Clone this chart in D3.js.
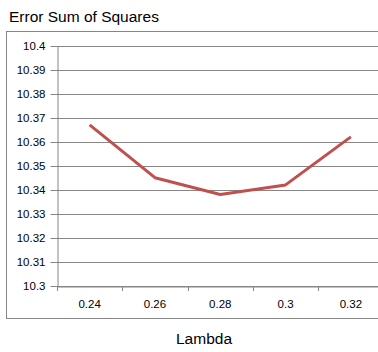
<!DOCTYPE html>
<html>
<head>
<meta charset="utf-8">
<script src="https://cdn.jsdelivr.net/npm/d3@7"></script>
<style>
  body { margin: 0; background: #fff; }
  svg { display: block; font-family: "Liberation Sans", Arial, sans-serif; }
</style>
</head>
<body>
<div id="vis"></div>
<script>
// Datos del gráfico
const lambdas = ["0.24", "0.26", "0.28", "0.3", "0.32"];
const sse = [10.367, 10.345, 10.338, 10.342, 10.362];
const yTicks = [10.3, 10.31, 10.32, 10.33, 10.34, 10.35, 10.36, 10.37, 10.38, 10.39, 10.4];

const WIDTH = 378;
const HEIGHT = 352;
const plot = { left: 57, right: 383.5, top: 45.7, bottom: 285.7 };

const svg = d3.select("#vis")
  .append("svg")
  .attr("width", WIDTH)
  .attr("height", HEIGHT);

// Marco exterior
svg.append("rect")
  .attr("x", 6.5)
  .attr("y", 31.5)
  .attr("width", 380)
  .attr("height", 287)
  .attr("fill", "none")
  .attr("stroke", "#868686");

// Escalas
const x = d3.scaleBand()
  .domain(lambdas)
  .range([plot.left, plot.right]);

const y = d3.scaleLinear()
  .domain([10.3, 10.4])
  .range([plot.bottom, plot.top]);

// Líneas de grilla
svg.append("g")
  .selectAll("line")
  .data(yTicks)
  .enter()
  .append("line")
  .attr("x1", plot.left)
  .attr("x2", plot.right)
  .attr("y1", d => Math.round(y(d)) + 0.5)
  .attr("y2", d => Math.round(y(d)) + 0.5)
  .attr("stroke", "#868686")
  .attr("stroke-width", 1);

// Eje Y
const yAxis = svg.append("g")
  .attr("transform", `translate(${plot.left + 0.5},0)`)
  .call(d3.axisLeft(y).tickValues(yTicks).tickFormat(d3.format("")).tickSize(7).tickSizeOuter(0).tickPadding(5));
yAxis.select(".domain").attr("stroke", "#868686");
yAxis.selectAll(".tick line").attr("stroke", "#868686");
yAxis.selectAll(".tick").attr("transform", d => `translate(0,${Math.round(y(d)) + 0.5})`);
yAxis.selectAll("text")
  .attr("font-size", 11.5)
  .attr("fill", "#000");

// Eje X
const xAxis = svg.append("g")
  .attr("transform", `translate(0,${Math.round(plot.bottom) + 0.5})`)
  .call(d3.axisBottom(x).tickSize(0).tickPadding(13));
xAxis.select(".domain").attr("stroke", "#868686");
xAxis.selectAll("text")
  .attr("font-size", 11.5)
  .attr("fill", "#000");

// Marcas entre categorías
svg.append("g")
  .selectAll("line")
  .data(lambdas)
  .enter()
  .append("line")
  .attr("x1", d => Math.round(x(d)) + 0.5)
  .attr("x2", d => Math.round(x(d)) + 0.5)
  .attr("y1", Math.round(plot.bottom))
  .attr("y2", Math.round(plot.bottom) + 5)
  .attr("stroke", "#868686");

// Serie
const line = d3.line()
  .x((d, i) => x(lambdas[i]) + x.bandwidth() / 2)
  .y(d => y(d));

svg.append("path")
  .datum(sse)
  .attr("d", line)
  .attr("fill", "none")
  .attr("stroke", "#c0504d")
  .attr("stroke-width", 3)
  .attr("stroke-linejoin", "round");

// Títulos
svg.append("text")
  .attr("x", 9)
  .attr("y", 22)
  .attr("font-size", 15.5)
  .attr("fill", "#000")
  .text("Error Sum of Squares");

svg.append("text")
  .attr("x", 204)
  .attr("y", 344)
  .attr("text-anchor", "middle")
  .attr("font-size", 15.5)
  .attr("fill", "#000")
  .text("Lambda");
</script>
</body>
</html>
